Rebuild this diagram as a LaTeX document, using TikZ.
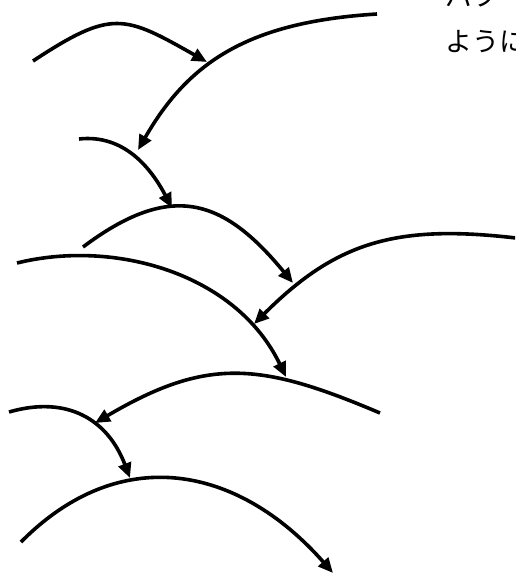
\documentclass[tikz,border=0pt]{standalone}
\usepackage{fontspec}
\newfontfamily\jpfont{Noto Sans CJK JP}
\usetikzlibrary{arrows.meta}
\newcommand{\hoparc}[4]{% start, control 1, control 2, tip
  \draw[hop] (#1) .. controls #2 and #3 .. (#4);
}

\begin{document}
\begin{tikzpicture}[x=1pt, y=-1pt,
    hop/.style={line width=3.6pt, -{Triangle[length=15pt, width=13pt]}},
    note/.style={anchor=base west, inner sep=0pt,
                 font=\jpfont\fontsize{27}{27}\selectfont}]
  \useasboundingbox (0,0) rectangle (515,579);
  \clip (0,0) rectangle (515,579);

  % Arc ends (s = start, t = arrow tip)
  \coordinate (s1) at (33,61);   \coordinate (t1) at (207,62);
  \coordinate (s2) at (377,14);  \coordinate (t2) at (138,150);
  \coordinate (s3) at (79,139);  \coordinate (t3) at (172,208);
  \coordinate (s4) at (83,247);  \coordinate (t4) at (293,283);
  \coordinate (s5) at (516,238); \coordinate (t5) at (254,324);
  \coordinate (s6) at (17,263);  \coordinate (t6) at (286,377);
  \coordinate (s7) at (380,413); \coordinate (t7) at (95,423);
  \coordinate (s8) at (9,412);   \coordinate (t8) at (130,478);
  \coordinate (s9) at (21,542);  \coordinate (t9) at (333,573);

  % Arcs
  \hoparc{s1}{(112,9)}{(124,15)}{t1}
  \hoparc{s2}{(247,22)}{(188,63)}{t2}
  \hoparc{s3}{(124,134)}{(151,168)}{t3}
  \hoparc{s4}{(171,181)}{(223,198)}{t4}
  \hoparc{s5}{(396,224)}{(336,242)}{t5}
  \hoparc{s6}{(114,239)}{(236,273)}{t6}
  \hoparc{s7}{(260,362)}{(207,357)}{t7}
  \hoparc{s8}{(68,395)}{(108,420)}{t8}
  \hoparc{s9}{(120,442)}{(238,465)}{t9}

  % Text, cut by the edge
  \node[note] (line1) at (445,6) {パフ};
  \node[note] (line2) at (445,51) {ように};
\end{tikzpicture}
\end{document}
